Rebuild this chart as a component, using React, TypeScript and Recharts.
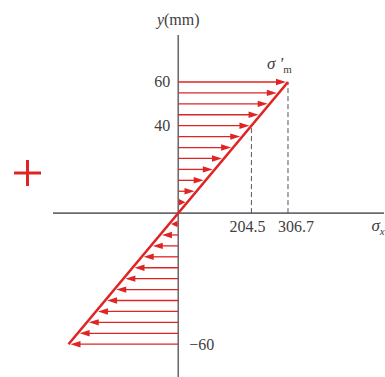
import React from 'react'
import { ComposedChart, XAxis, YAxis, ReferenceLine, ReferenceDot } from 'recharts'

// depth levels of the arrows (mm) and the stress read at each one
const yLevels = [60, 55, 50, 45, 40, 35, 30, 25, 20, 15, 10, 5, -5, -10, -15, -20, -25, -30, -35, -40, -45, -50, -55, -60]
const stressValues = [
  306.7, 281.1, 255.6, 230.0, 204.5, 178.9, 153.4, 127.8, 102.2, 76.7, 51.1, 25.6,
  -25.6, -51.1, -76.7, -102.2, -127.8, -153.4, -178.9, -204.5, -230.0, -255.6, -281.1, -306.7,
]
const lineEnds = [
  { x: -306.7, y: -60 },
  { x: 306.7, y: 60 },
]
const xMarks = [204.5, 306.7]
const xMarkTop = [40, 60]
const xMarkShift = [-4, 8]
const yTicks = [60, 40, -60]

const RED = '#e02424'
const AXIS = '#6b6b70'
const TEXT = '#404040'
const FONT = '"Liberation Serif", "DejaVu Serif", serif'

const Arrow = (props: any) => {
  const { x1, y1, x2 } = props
  const dir = x2 > x1 ? 1 : -1
  const len = Math.abs(x2 - x1)
  const head = Math.min(10, len * 0.7)
  const tip = x2 - dir * 2
  return (
    <g>
      <line x1={x1} y1={y1} x2={tip - dir * head * 0.5} y2={y1} stroke={RED} strokeWidth={1.3} />
      <polygon
        points={`${tip},${y1} ${tip - dir * head},${y1 - 3.2} ${tip - dir * head},${y1 + 3.2}`}
        fill={RED}
      />
    </g>
  )
}

const txt = (value: string, dx: number, dy: number, anchor: string = 'middle') => (p: any) => {
  const { viewBox } = p
  return (
    <text
      x={viewBox.x + dx}
      y={viewBox.y + dy}
      textAnchor={anchor}
      dominantBaseline="central"
      fontFamily={FONT}
      fontSize={16}
      fill={TEXT}
    >
      {value}
    </text>
  )
}

export default function App() {
  return (
    <div style={{ position: 'absolute', left: 0, top: 0, background: '#fff' }}>
      <ComposedChart width={385} height={377} margin={{ top: 35, right: 1, bottom: 0, left: 53 }} data={lineEnds}>
        <XAxis type="number" dataKey="x" domain={[-350, 575]} hide allowDataOverflow />
        <YAxis type="number" dataKey="y" domain={[-75, 81.5]} hide allowDataOverflow />

        <ReferenceLine y={0} stroke={AXIS} strokeWidth={1.6} />
        <ReferenceLine x={0} stroke={AXIS} strokeWidth={1.6} />

        {xMarks.map((v, i) => (
          <ReferenceLine
            key={`d-${v}`}
            segment={[{ x: v, y: 0 }, { x: v, y: xMarkTop[i] }]}
            stroke="#555"
            strokeWidth={1}
            strokeDasharray="5 3"
          />
        ))}

        {yLevels.map((y, i) => (
          <ReferenceLine
            key={`a-${y}`}
            segment={[{ x: 0, y }, { x: stressValues[i], y }]}
            shape={Arrow}
          />
        ))}

        <ReferenceLine
          segment={[lineEnds[0], lineEnds[1]]}
          stroke={RED}
          strokeWidth={2.6}
        />

        {yTicks.map((t) => (
          <ReferenceDot
            key={`t-${t}`}
            x={0}
            y={t}
            r={0}
            stroke="none"
            label={t > 0 ? txt(String(t), -8, 0, 'end') : txt(`\u2212${-t}`, 11, 0, 'start')}
          />
        ))}
        {xMarks.map((v, i) => (
          <ReferenceDot key={`x-${v}`} x={v} y={0} r={0} stroke="none" label={txt(String(v), xMarkShift[i], 13)} />
        ))}

        <ReferenceDot
          x={0}
          y={81.5}
          r={0}
          stroke="none"
          label={(p: any) => (
            <text x={p.viewBox.x} y={p.viewBox.y - 10} textAnchor="middle" fontFamily={FONT} fontSize={16} fill={TEXT}>
              <tspan fontStyle="italic">y</tspan>(mm)
            </text>
          )}
        />
        <ReferenceDot
          x={306.7}
          y={60}
          r={0}
          stroke="none"
          label={(p: any) => (
            <text x={p.viewBox.x - 21} y={p.viewBox.y - 13} fontFamily={FONT} fontSize={17} fill={TEXT} fontStyle="italic">
              σ '
              <tspan fontSize={11} fontStyle="normal" dy={4}>m</tspan>
            </text>
          )}
        />
        <ReferenceDot
          x={540}
          y={0}
          r={0}
          stroke="none"
          label={(p: any) => (
            <text x={p.viewBox.x} y={p.viewBox.y + 18} fontFamily={FONT} fontSize={17} fill={TEXT} fontStyle="italic">
              σ
              <tspan fontSize={11} dy={4}>x</tspan>
            </text>
          )}
        />
        <ReferenceDot
          x={-420}
          y={17}
          r={0}
          stroke="none"
          ifOverflow="visible"
          label={() => (
            <g stroke={RED} strokeWidth={3}>
              <line x1={14} y1={173} x2={41} y2={173} />
              <line x1={27.5} y1={160} x2={27.5} y2={186} />
            </g>
          )}
        />
      </ComposedChart>
    </div>
  )
}
